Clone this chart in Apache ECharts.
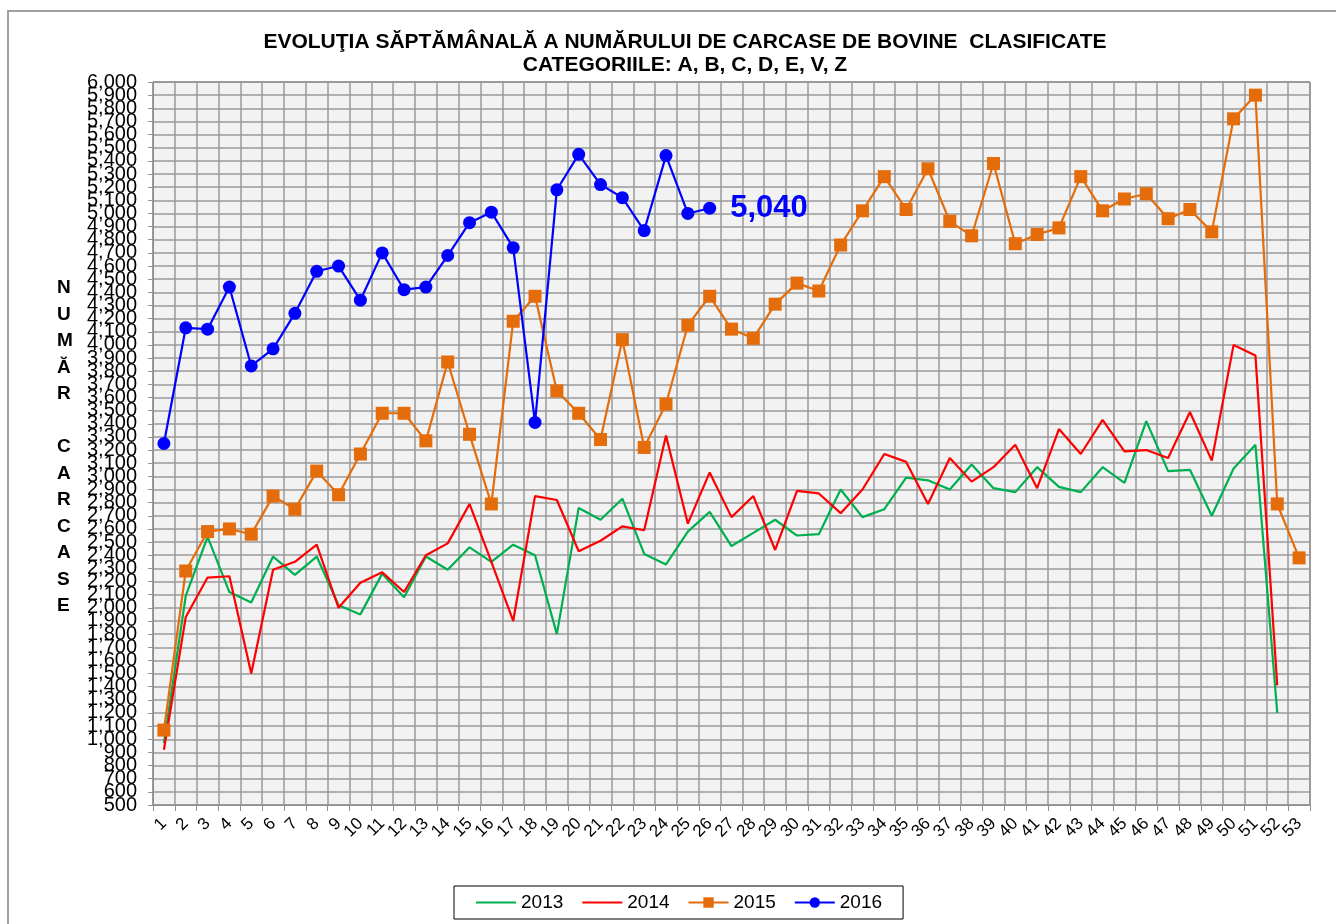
<!DOCTYPE html>
<html>
<head>
<meta charset="utf-8">
<script src="https://cdn.jsdelivr.net/npm/echarts@6/dist/echarts.min.js"></script>
<style>
  html, body { margin: 0; padding: 0; background: #fff; }
  #chart { width: 1336px; height: 924px; }
</style>
</head>
<body>
<div id="chart"></div>
<script>
// saptamanile 1..53
const weeks = [];
for (let i = 1; i <= 53; i++) weeks.push(String(i));

// etichetele axei Y, 500 .. 6,000 din 100 in 100
const yTicks = [];
for (let v = 500; v <= 6000; v += 100) yTicks.push(v.toLocaleString('en-US'));

const data2013 = [970, 2090, 2540, 2120, 2040, 2390, 2250, 2390, 2020, 1950,
  2260, 2080, 2390, 2290, 2460, 2350, 2480, 2400, 1800, 2760,
  2670, 2830, 2410, 2330, 2580, 2730, 2470, 2570, 2670, 2550,
  2560, 2900, 2690, 2750, 2990, 2970, 2900, 3090, 2910, 2880,
  3070, 2920, 2880, 3070, 2950, 3420, 3040, 3050, 2700, 3060,
  3240, 1200];

const data2014 = [920, 1930, 2230, 2240, 1500, 2290, 2350, 2480, 2000, 2190,
  2270, 2120, 2400, 2490, 2790, 2350, 1900, 2850, 2820, 2430,
  2510, 2620, 2590, 3310, 2640, 3030, 2690, 2850, 2440, 2890,
  2870, 2720, 2900, 3170, 3110, 2790, 3140, 2960, 3070, 3240,
  2910, 3360, 3170, 3430, 3190, 3200, 3140, 3490, 3120, 4000,
  3920, 1410];

const data2015 = [1070, 2280, 2580, 2600, 2560, 2850, 2750, 3040, 2860, 3170,
  3480, 3480, 3270, 3870, 3320, 2790, 4180, 4370, 3650, 3480,
  3280, 4040, 3220, 3550, 4150, 4370, 4120, 4050, 4310, 4470,
  4410, 4760, 5020, 5280, 5030, 5340, 4940, 4830, 5380, 4770,
  4840, 4890, 5280, 5020, 5110, 5150, 4960, 5030, 4860, 5720,
  5900, 2790, 2380];

const data2016 = [3250, 4130, 4120, 4440, 3840, 3970, 4240, 4560, 4600, 4340,
  4700, 4420, 4440, 4680, 4930, 5010, 4740, 3410, 5180, 5450,
  5220, 5120, 4870, 5440, 5000, 5040];

let myChart = echarts.init(document.getElementById('chart'));

const font = 'Liberation Sans, Arial, sans-serif';

// ultimul punct 2016 cu eticheta
const s2016 = data2016.map((v, i) => i === data2016.length - 1 ? {
  value: v,
  label: {
    show: true, position: 'right', distance: 14,
    formatter: p => p.value.toLocaleString('en-US'),
    color: '#0000ff', fontSize: 31, fontWeight: 'bold', fontFamily: font
  }
} : v);

myChart.setOption({
  animation: false,
  backgroundColor: '#fff',
  title: {
    text: 'EVOLUŢIA SĂPTĂMÂNALĂ A NUMĂRULUI DE CARCASE DE BOVINE  CLASIFICATE\nCATEGORIILE: A, B, C, D, E, V, Z',
    left: 680, top: 26, textAlign: 'center',
    textStyle: { fontFamily: font, fontSize: 21, fontWeight: 'bold', color: '#000', lineHeight: 23 }
  },
  graphic: [
    {
      type: 'rect', shape: { x: 8, y: 11, width: 1340, height: 1000 },
      style: { fill: 'none', stroke: '#a0a0a0', lineWidth: 2 }, silent: true
    },
    {
      type: 'text', left: 57, top: 275,
      style: {
        text: 'N\nU\nM\nĂ\nR\n \nC\nA\nR\nC\nA\nS\nE',
        fontFamily: font, fontSize: 19, fontWeight: 'bold', fill: '#000',
        lineHeight: 26.5, align: 'center'
      }
    }
  ],
  legend: {
    bottom: 5, left: 454,
    itemWidth: 40, itemHeight: 13, itemGap: 18,
    padding: [7, 21, 7, 21],
    borderColor: '#000', borderWidth: 1,
    textStyle: { fontFamily: font, fontSize: 19, color: '#000' },
    data: [
      { name: '2013', itemStyle: { opacity: 0 } },
      { name: '2014', itemStyle: { opacity: 0 } },
      '2015', '2016'
    ]
  },
  grid: { left: 153, right: 26, top: 82, bottom: 119, show: true,
    backgroundColor: '#f2f2f2', borderColor: '#404040', borderWidth: 1 },
  xAxis: {
    type: 'category',
    boundaryGap: true,
    data: weeks,
    axisLine: { lineStyle: { color: '#909090' } },
    axisTick: { show: true, length: 6, lineStyle: { color: '#909090' } },
    splitLine: { show: true, lineStyle: { color: '#9a9a9a', width: 1.5 } },
    axisLabel: { interval: 0, rotate: 45, fontFamily: font, fontSize: 17, color: '#000', margin: 16 }
  },
  yAxis: [
    {
      type: 'value',
      min: 500, max: 6000, interval: 100,
      axisLine: { show: true, lineStyle: { color: '#909090' } },
      axisTick: { show: true, length: 5, lineStyle: { color: '#909090' } },
      splitLine: { show: true, lineStyle: { color: '#9a9a9a', width: 1.5 } },
      axisLabel: { show: false }
    },
    {
      // doar pentru etichete, ca sa apara toate (se suprapun ca in original)
      type: 'category',
      position: 'left',
      boundaryGap: false,
      data: yTicks,
      axisLine: { show: false },
      axisTick: { show: false },
      splitLine: { show: false },
      axisLabel: { interval: 0, fontFamily: font, fontSize: 20, color: '#000', margin: 16 }
    }
  ],
  series: [
    {
      name: '2013', type: 'line', data: data2013,
      symbol: 'none', lineStyle: { color: '#00b050', width: 2.2 }, itemStyle: { color: '#00b050' }
    },
    {
      name: '2014', type: 'line', data: data2014,
      symbol: 'none', lineStyle: { color: '#ff0000', width: 2.2 }, itemStyle: { color: '#ff0000' }
    },
    {
      name: '2015', type: 'line', data: data2015,
      symbol: 'rect', symbolSize: 13,
      lineStyle: { color: '#e46c0a', width: 2.2 }, itemStyle: { color: '#e46c0a' }
    },
    {
      name: '2016', type: 'line', data: s2016,
      symbol: 'circle', symbolSize: 13,
      lineStyle: { color: '#0000ff', width: 2.2 }, itemStyle: { color: '#0000ff' }
    }
  ]
});
</script>
</body>
</html>
